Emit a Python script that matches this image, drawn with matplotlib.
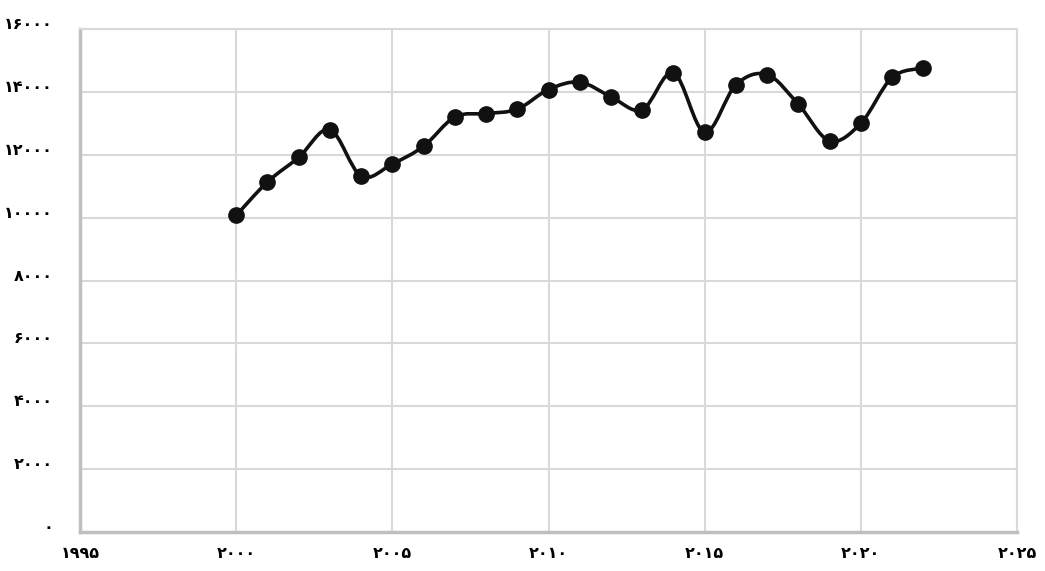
import numpy as np
import matplotlib
matplotlib.use("Agg")
import matplotlib.pyplot as plt
from matplotlib.path import Path
from matplotlib.patches import PathPatch
from matplotlib.transforms import ScaledTranslation

#### datos
years = list(range(2000, 2023))
values = [10070, 11135, 11915, 12800, 11320, 11710, 12270, 13200, 13310, 13450,
          14075, 14310, 13845, 13430, 14610, 12715, 14225, 14550, 13605, 12440,
          13000, 14460, 14755]

x_ticks = [1995, 2000, 2005, 2010, 2015, 2020, 2025]
y_ticks = [0, 2000, 4000, 6000, 8000, 10000, 12000, 14000, 16000]


def fa(n):
    # digitos persas
    return str(n).translate(str.maketrans("0123456789", "۰۱۲۳۴۵۶۷۸۹"))


# curva suavizada tipo excel (bezier) a traves de los puntos
def smooth_path(xs, ys, k=1/6.):
    P = np.column_stack([xs, ys]).astype(float)
    n = len(P)
    verts = [P[0]]
    codes = [Path.MOVETO]
    for i in range(n - 1):
        p0 = P[i - 1] if i > 0 else P[i]
        p3 = P[i + 2] if i + 2 < n else P[i + 1]
        c1 = P[i] + (P[i + 1] - p0) * k
        c2 = P[i + 1] - (p3 - P[i]) * k
        verts += [c1, c2, P[i + 1]]
        codes += [Path.CURVE4] * 3
    return Path(verts, codes)


fig = plt.figure(figsize=(10.45, 5.71), dpi=100)
ax = fig.add_axes([0.0766, 0.0683, 0.8966, 0.8809])

ax.add_patch(PathPatch(smooth_path(years, values), facecolor="none",
                       edgecolor="#111111", lw=2.6, zorder=3, capstyle="round"))
ax.plot(years, values, ls="none", marker="o", ms=11, color="#111111", zorder=4)

ax.set_xlim(1995, 2025)
ax.set_ylim(0, 16000)
ax.set_xticks(x_ticks)
ax.set_yticks(y_ticks)
ax.set_xticklabels([fa(v) for v in x_ticks])
ax.set_yticklabels([fa(v) for v in y_ticks])

ax.grid(True, color="#d9d9d9", lw=1.5)
ax.set_axisbelow(True)
ax.tick_params(length=0, labelsize=11.5, colors="black")
ax.tick_params(axis="y", pad=19.5)
ax.tick_params(axis="x", pad=10)
for lab in ax.get_xticklabels() + ax.get_yticklabels():
    lab.set_fontweight("bold")
off = ScaledTranslation(0, 6 / 100., fig.dpi_scale_trans)
for lab in ax.get_yticklabels():
    lab.set_transform(lab.get_transform() + off)

for s in ["left", "bottom"]:
    ax.spines[s].set_color("#bfbfbf")
    ax.spines[s].set_linewidth(2.5)
for s in ["top", "right"]:
    ax.spines[s].set_color("#d9d9d9")
    ax.spines[s].set_linewidth(1.5)

plt.savefig("out.png", dpi=100)
